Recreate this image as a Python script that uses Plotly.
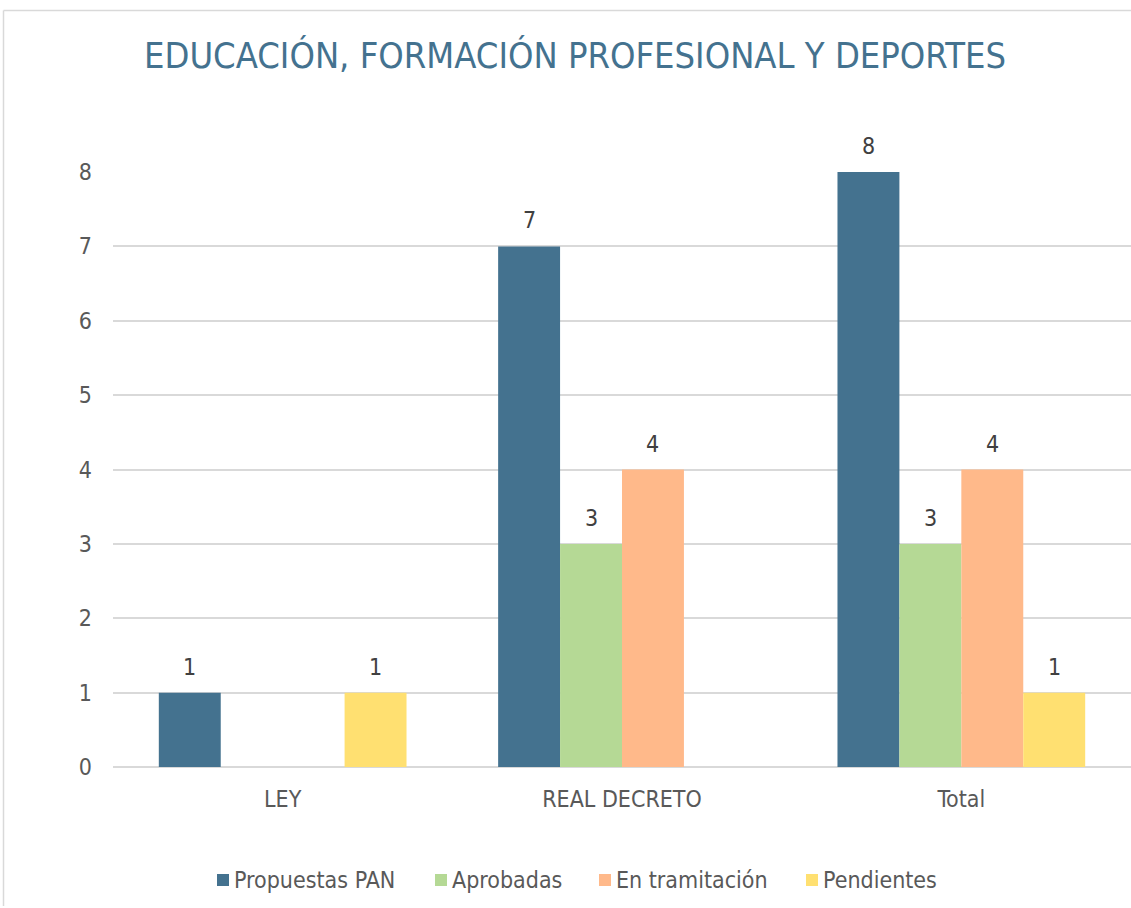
import plotly.graph_objects as go

categories = ["LEY", "REAL DECRETO", "Total"]
series_names = ["Propuestas PAN", "Aprobadas", "En tramitación", "Pendientes"]
propuestas = [1, 7, 8]
aprobadas = [None, 3, 3]
tramitacion = [None, 4, 4]
pendientes = [1, None, 1]
colors = ["#44728F", "#B5D995", "#FFB98A", "#FFE071"]
all_series = [propuestas, aprobadas, tramitacion, pendientes]

FONT = "DejaVu Sans Condensed"
GRAY = "#595959"
W, H = 1131, 908
L, R, T, B = 113, 0, 172, 141
PW, PH = W - L - R, H - T - B
BARGAP = 0.27


def px_x(X):  # screen pixel -> paper x
    return (X - L) / PW


def px_y(Y):  # screen pixel -> paper y
    return (H - Y - B) / PH


fig = go.Figure()
for name, vals, col in zip(series_names, all_series, colors):
    fig.add_trace(go.Bar(x=categories, y=vals, name=name,
                         marker=dict(color=col, line=dict(width=0)), showlegend=False))

# data labels
slot = PW / len(categories) * (1 - BARGAP) / len(all_series)
annotations = []
for i, vals in enumerate(all_series):
    xs = (i - (len(all_series) - 1) / 2) * slot
    for c, v in zip(categories, vals):
        if v is None:
            continue
        annotations.append(dict(x=c, y=v, xref="x", yref="y", text=str(v), showarrow=False,
                                xshift=xs, yshift=26, yanchor="middle",
                                font=dict(size=23, color="#404040", family=FONT)))

# legend (custom, Excel style)
legend_text_left = [234, 452, 616, 823]
legend_y = 880
shapes = []
for name, col, tx in zip(series_names, colors, legend_text_left):
    shapes.append(dict(type="rect", xref="paper", yref="paper",
                       x0=px_x(tx - 17), x1=px_x(tx - 5),
                       y0=px_y(legend_y + 6), y1=px_y(legend_y - 6),
                       fillcolor=col, line=dict(width=0)))
    annotations.append(dict(x=px_x(tx - 2), y=px_y(legend_y), xref="paper", yref="paper",
                            text=name, showarrow=False, xanchor="left", yanchor="middle",
                            font=dict(size=23, color=GRAY, family=FONT)))

# chart border
shapes.append(dict(type="line", xref="paper", yref="paper",
                   x0=px_x(3.5), x1=px_x(3.5), y0=px_y(906), y1=px_y(10.5),
                   line=dict(color="#D9D9D9", width=1.5)))
shapes.append(dict(type="line", xref="paper", yref="paper",
                   x0=px_x(3.5), x1=px_x(1140), y0=px_y(10.5), y1=px_y(10.5),
                   line=dict(color="#D9D9D9", width=1.5)))

fig.update_layout(
    width=W, height=H,
    barmode="group", bargap=BARGAP, bargroupgap=0,
    plot_bgcolor="white", paper_bgcolor="white",
    margin=dict(l=L, r=R, t=T, b=B),
    font=dict(family=FONT, color=GRAY, size=23),
    title=dict(text="EDUCACIÓN, FORMACIÓN PROFESIONAL Y DEPORTES",
               x=575 / W, xref="container", xanchor="center",
               y=1 - 55 / H, yref="container", yanchor="middle",
               font=dict(size=36, color="#44728F", family=FONT)),
    showlegend=False,
    annotations=annotations,
    shapes=shapes,
)
fig.update_yaxes(range=[0, 8], dtick=1, showgrid=True, gridcolor="#D9D9D9", gridwidth=2,
                 zeroline=True, zerolinecolor="#D9D9D9", zerolinewidth=2,
                 showline=False, ticks="", ticklabelstandoff=20,
                 tickfont=dict(size=23, color=GRAY, family=FONT))
fig.update_xaxes(showline=False, ticks="", ticklabelstandoff=16,
                 tickfont=dict(size=23, color=GRAY, family=FONT))

fig.write_html("out.html", config={"displayModeBar": False},
               post_script="document.body.style.margin='0';document.body.style.overflow='hidden';")
